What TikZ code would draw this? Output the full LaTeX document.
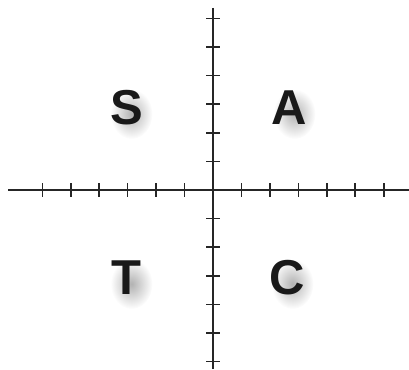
\documentclass[tikz,border=0pt]{standalone}
\usepackage{fontspec}
\setmainfont{Liberation Sans}
\usetikzlibrary{fadings}
\tikzfading[name=softblob, inner color=transparent!0, outer color=transparent!100]
\begin{document}
\begin{tikzpicture}[x=1pt,y=-1pt,
  axis/.style={line width=2.6pt,black!85},
  tick/.style={line width=1.6pt,black!85},
  letter/.style={font=\fontsize{49}{49}\selectfont\bfseries,text=black!90,inner sep=0pt,anchor=center},
  softshadow/.style={fill=black,fill opacity=0.3,path fading=softblob}]
\useasboundingbox[fill=white] (0,0) rectangle (409,369);
\coordinate (L) at (8,190);
\coordinate (R) at (409,190);
\coordinate (T) at (213,8);
\coordinate (B) at (213,369);
\draw[axis] (L) -- (R);
\draw[axis] (T) -- (B);
\foreach \i in {1,...,6}{
  \draw[tick] ({213-28.45*\i},183) -- ({213-28.45*\i},197);
  \draw[tick] ({213+28.45*\i},183) -- ({213+28.45*\i},197);
  \draw[tick] (206,{190-28.6*\i}) -- (220,{190-28.6*\i});
  \draw[tick] (206,{190+28.6*\i}) -- (220,{190+28.6*\i});
}
\foreach \x/\y/\t/\n in {126.5/108/S/s,289.5/108/A/a,126.5/278/T/t,287.5/278/C/c}{
  \fill[softshadow] ({\x+5},{\y+6}) ellipse (21pt and 25pt);
  \node[letter] (\n) at (\x,\y) {\t};
}
\end{tikzpicture}
\end{document}
